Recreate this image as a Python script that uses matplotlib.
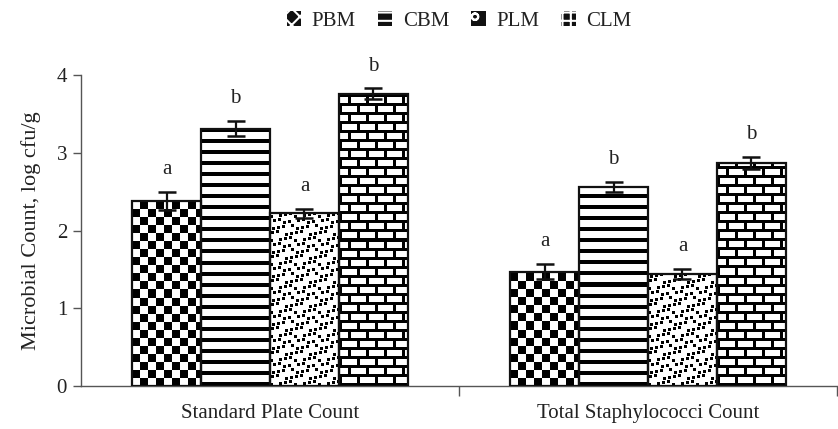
import numpy as np
import matplotlib
matplotlib.use("Agg")
import matplotlib.pyplot as plt
from matplotlib.patches import Patch

plt.rcParams['font.family'] = ['Liberation Serif', 'DejaVu Serif']
plt.rcParams['hatch.linewidth'] = 1.5

# data
categories = ["Standard Plate Count", "Total Staphylococci Count"]
series = ["PBM", "CBM", "PLM", "CLM"]
values = {
    "PBM": [2.38, 1.47],
    "CBM": [3.31, 2.56],
    "PLM": [2.22, 1.44],
    "CLM": [3.76, 2.87],
}
errors = {
    "PBM": [0.12, 0.10],
    "CBM": [0.10, 0.07],
    "PLM": [0.06, 0.07],
    "CLM": [0.07, 0.08],
}
letters = {
    "PBM": ["a", "a"],
    "CBM": ["b", "b"],
    "PLM": ["a", "a"],
    "CLM": ["b", "b"],
}

FS = 15


def texture(kind, h, w):
    # fill pattern in pixel units, 0 = black, 1 = white
    yy, xx = np.mgrid[0:h, 0:w]
    if kind == "PBM":  # checkerboard
        t = ((xx // 8 + yy // 8) % 2) == 0
    elif kind == "CBM":  # horizontal stripes
        t = (yy % 11) >= 4
    elif kind == "PLM":  # scattered small dots
        ci, cj = xx // 6, yy // 6
        ox = (ci * 3 + cj * 5) % 4
        oy = (ci * 5 + cj * 2) % 4
        dx = (xx % 6) - ox
        dy = (yy % 6) - oy
        t = ~((dx >= 0) & (dx < 3) & (dy >= 0) & (dy < 3))
    else:  # bricks
        row = yy // 9
        t = ((yy % 9) >= 3) & (((xx + 9 * (row % 2)) % 18) >= 3)
    return t.astype(float)


fig = plt.figure(figsize=(8.38, 4.29), dpi=100)
ax = fig.add_axes([81 / 838, 43 / 429, 756 / 838, 311 / 429])

ax.set_xlim(-0.5, 1.5)
ax.set_ylim(0, 4)

x = np.arange(len(categories))
w = 0.1825
offsets = (np.arange(len(series)) - 1.5) * w

for i, s in enumerate(series):
    bars = ax.bar(x + offsets[i], values[s], w, facecolor='none',
                  edgecolor='#111111', linewidth=1.6, zorder=3)
    for j, b in enumerate(bars):
        x0, y0 = b.get_x(), 0
        x1, y1 = b.get_x() + b.get_width(), b.get_height()
        p0 = ax.transData.transform((x0, y0))
        p1 = ax.transData.transform((x1, y1))
        wp = int(round(p1[0] - p0[0]))
        hp = int(round(p1[1] - p0[1]))
        tex = texture(s, hp, wp)
        im = ax.imshow(tex, cmap='gray', vmin=0, vmax=1, extent=[x0, x1, y0, y1],
                       aspect='auto', interpolation='nearest', origin='lower', zorder=2)
        im.set_clip_path(b)
    ax.errorbar(x + offsets[i], values[s], yerr=errors[s], fmt='none',
                ecolor='#111111', elinewidth=1.6, capsize=6.5, capthick=1.8, zorder=4)
    for j in range(len(categories)):
        ax.annotate(letters[s][j], (x[j] + offsets[i], values[s][j] + errors[s][j]),
                    xytext=(0, 9), textcoords='offset points', ha='center', va='bottom',
                    fontsize=FS, color='#222222')

ax.set_xlim(-0.5, 1.5)
ax.set_ylim(0, 4)

ax.spines['top'].set_visible(False)
ax.spines['right'].set_visible(False)
for sp in ['left', 'bottom']:
    ax.spines[sp].set_color('#555555')
    ax.spines[sp].set_linewidth(1.0)

ax.set_yticks([0, 1, 2, 3, 4])
ax.set_xticks(x)
ax.set_xticklabels(categories)
ax.set_xticks([0.5, 1.5], minor=True)
ax.tick_params(axis='x', which='major', length=0, pad=13, labelsize=FS, colors='#222222')
ax.tick_params(axis='x', which='minor', length=7, width=1.0, color='#555555')
ax.tick_params(axis='y', length=6, width=1.0, color='#555555', labelsize=FS,
               labelcolor='#222222', pad=4)
ax.set_ylabel("Microbial Count, log cfu/g", fontsize=16, color='#222222', labelpad=11)

handles = [
    Patch(facecolor='#111111', edgecolor='white', hatch='xx', linewidth=0.01),
    Patch(facecolor='#111111', edgecolor='white', hatch='--', linewidth=0.01),
    Patch(facecolor='#111111', edgecolor='white', hatch='o', linewidth=0.01),
    Patch(facecolor='#111111', edgecolor='white', hatch='++', linewidth=0.01),
]
leg = ax.legend(handles, series, loc='center', bbox_to_anchor=(0.5, 1 + 54 / 311),
                ncol=4, frameon=False, fontsize=FS, handlelength=0.7, handleheight=0.7,
                handletextpad=0.5, columnspacing=1.05)
for t in leg.get_texts():
    t.set_color('#222222')

fig.savefig("out.png", dpi=100)
